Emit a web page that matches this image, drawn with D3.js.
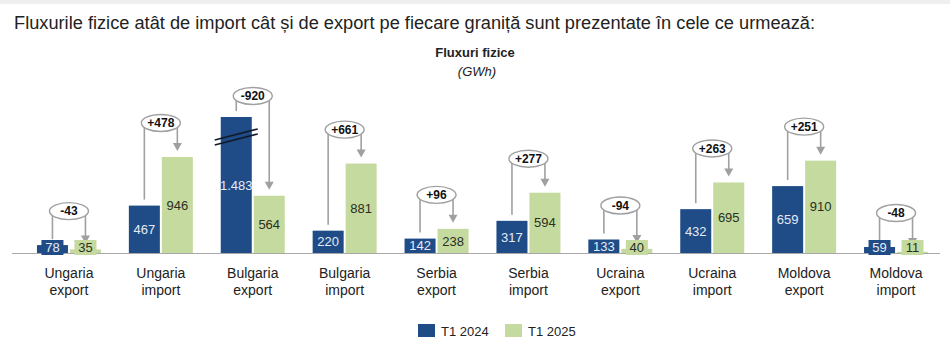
<!DOCTYPE html>
<html>
<head>
<meta charset="utf-8">
<script src="https://cdn.jsdelivr.net/npm/d3@7/dist/d3.min.js"></script>
<style>
  body { margin: 0; background: #fff; }
  svg { display: block; font-family: "Liberation Sans", Arial, sans-serif; }
</style>
</head>
<body>
<div id="chart"></div>
<script>
// date (GWh)
var categories = [
  ["Ungaria", "export"], ["Ungaria", "import"],
  ["Bulgaria", "export"], ["Bulgaria", "import"],
  ["Serbia", "export"], ["Serbia", "import"],
  ["Ucraina", "export"], ["Ucraina", "import"],
  ["Moldova", "export"], ["Moldova", "import"]
];
var seriesNames = ["T1 2024", "T1 2025"];
var t1_2024 = [78, 467, 1483, 220, 142, 317, 133, 432, 659, 59];
var t1_2025 = [35, 946, 564, 881, 238, 594, 40, 695, 910, 11];
var deltas  = [-43, 478, -920, 661, 96, 277, -94, 263, 251, -48];

var colors = ["#1f4b87", "#c4da9f"];
var breakAt = 1340; // bara Bulgaria export e intrerupta

var W = 950, H = 363, base = 253;

var svg = d3.select("#chart").append("svg")
  .attr("width", W).attr("height", H);

svg.append("rect").attr("x", 0).attr("y", 0).attr("width", W).attr("height", 4).attr("fill", "#efefef");

svg.append("text").attr("x", 14).attr("y", 29)
  .attr("font-size", 17.5).attr("fill", "#222")
  .attr("textLength", 801).attr("lengthAdjust", "spacingAndGlyphs")
  .text("Fluxurile fizice atât de import cât și de export pe fiecare graniță sunt prezentate în cele ce urmează:");

svg.append("text").attr("x", 475).attr("y", 57).attr("text-anchor", "middle")
  .attr("font-size", 13).attr("font-weight", "bold").attr("fill", "#222")
  .text("Fluxuri fizice");
svg.append("text").attr("x", 477).attr("y", 76).attr("text-anchor", "middle")
  .attr("font-size", 13).attr("font-style", "italic").attr("fill", "#222")
  .text("(GWh)");

var x0 = d3.scaleBand().domain(d3.range(categories.length)).range([23, 942]);
var x1 = d3.scaleBand().domain([0, 1]).range([-32, 32]).paddingInner(0.06);
var y = d3.scaleLinear().domain([0, 1000]).range([base, base - 101.5]);

var fmt = d3.formatLocale({decimal: ",", thousands: ".", grouping: [3], currency: ["", ""]}).format(",");

svg.append("line").attr("x1", 12).attr("x2", 940).attr("y1", base + 0.5).attr("y2", base + 0.5)
  .attr("stroke", "#a8a8a8").attr("stroke-width", 1);

var data = categories.map(function(c, i){
  return {i: i, vals: [t1_2024[i], t1_2025[i]], delta: deltas[i]};
});

function cx(d, s){ return x0(d.i) + x0.bandwidth() / 2 + x1(s) + x1.bandwidth() / 2; }
function topY(v){ return y(Math.min(v, breakAt)); }

var g = svg.selectAll(".grp").data(data).enter().append("g").attr("class", "grp");

// annotations (bracket + ellipse)
g.each(function(d){
  var sel = d3.select(this);
  var tb = topY(d.vals[0]), tg = topY(d.vals[1]);
  var broken = d.vals[0] > breakAt;
  var ey = Math.min(tb, tg) - (broken ? 21 : 34);
  var xb = cx(d, 0), xg = cx(d, 1);
  sel.append("line").attr("x1", xb).attr("x2", xb).attr("y1", ey).attr("y2", tb - 6)
    .attr("stroke", "#a0a0a0").attr("stroke-width", 1.6);
  sel.append("line").attr("x1", xg).attr("x2", xg).attr("y1", ey).attr("y2", tg - 12)
    .attr("stroke", "#a0a0a0").attr("stroke-width", 1.6);
  sel.append("path")
    .attr("d", "M" + (xg - 4.5) + "," + (tg - 14) + "L" + (xg + 4.5) + "," + (tg - 14) + "L" + xg + "," + (tg - 6) + "Z")
    .attr("fill", "#a0a0a0");
  var mid = (xb + xg) / 2;
  sel.append("ellipse").attr("cx", mid).attr("cy", ey).attr("rx", 19.5).attr("ry", 8.5)
    .attr("fill", "#fff").attr("stroke", "#a0a0a0").attr("stroke-width", 1.4);
  sel.append("text").attr("x", mid).attr("y", ey + 4.3).attr("text-anchor", "middle")
    .attr("font-size", 12).attr("font-weight", "bold").attr("fill", "#111")
    .text((d.delta > 0 ? "+" : "") + d.delta);
});

// bars
g.selectAll("rect.bar")
  .data(function(d){ return d.vals.map(function(v, s){ return {d: d, v: v, s: s}; }); })
  .enter().append("rect").attr("class", "bar")
  .attr("x", function(e){ return x0(e.d.i) + x0.bandwidth() / 2 + x1(e.s); })
  .attr("width", x1.bandwidth())
  .attr("y", function(e){ return topY(e.v); })
  .attr("height", function(e){ return base - topY(e.v); })
  .attr("fill", function(e){ return colors[e.s]; });

// value labels
g.each(function(d){
  var sel = d3.select(this);
  d.vals.forEach(function(v, s){
    var xc = cx(d, s);
    var h = base - topY(v);
    var ty;
    if (v < 100) {
      sel.append("rect").attr("x", xc - 11).attr("y", base - 13).attr("width", 22).attr("height", 15)
        .attr("fill", colors[s]);
      ty = base - 5.5;
    } else {
      ty = base - h / 2;
    }
    sel.append("text").attr("x", xc).attr("y", ty + 4.6).attr("text-anchor", "middle")
      .attr("font-size", 13).attr("fill", s === 0 ? "#e4ebf5" : "#2b2f22")
      .text(fmt(v));
  });
  if (d.vals[0] > breakAt) {
    var xb = x0(d.i) + x0.bandwidth() / 2 + x1(0);
    var yb = topY(breakAt) + 17;
    [0, 5].forEach(function(o){
      sel.append("line").attr("x1", xb - 6).attr("y1", yb + 6 + o).attr("x2", xb + 37).attr("y2", yb - 5 + o)
        .attr("stroke", "#111a2c").attr("stroke-width", 1.6);
    });
  }
});

// category labels
var lab = svg.selectAll(".cat").data(categories).enter().append("text").attr("class", "cat")
  .attr("text-anchor", "middle").attr("font-size", 14).attr("fill", "#222")
  .attr("transform", function(c, i){ return "translate(" + (x0(i) + x0.bandwidth() / 2) + ",0)"; });
lab.append("tspan").attr("x", 0).attr("y", 278).text(function(c){ return c[0]; });
lab.append("tspan").attr("x", 0).attr("y", 295).text(function(c){ return c[1]; });

// legend
var leg = svg.selectAll(".leg").data(seriesNames).enter().append("g").attr("class", "leg")
  .attr("transform", function(s, i){ return "translate(" + (418 + i * 87) + ",324)"; });
leg.append("rect").attr("width", 17).attr("height", 13).attr("fill", function(s, i){ return colors[i]; });
leg.append("text").attr("x", 23).attr("y", 11.5).attr("font-size", 13).attr("fill", "#222")
  .text(function(s){ return s; });
</script>
</body>
</html>
